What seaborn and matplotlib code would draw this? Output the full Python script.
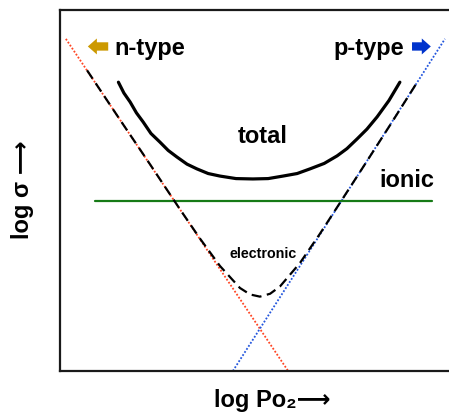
import matplotlib
matplotlib.use("Agg")
import matplotlib.pyplot as plt
import seaborn as sns
from matplotlib.patches import FancyArrowPatch

# ---- data (schematic log units) ----
n_line_x = [0.15, 5.82]
n_line_y = [9.20, 0.00]
p_line_x = [4.41, 9.82]
p_line_y = [0.00, 9.20]
ionic_x = [0.89, 9.49]
ionic_y = [4.71, 4.71]
elec_x = [0.69, 1.53, 2.30, 3.06, 3.57, 4.08, 4.59, 4.85, 5.10, 5.36, 5.61,
          6.12, 6.63, 7.65, 8.42, 9.13]
elec_y = [8.33, 6.96, 5.72, 4.48, 3.67, 2.91, 2.30, 2.12, 2.06, 2.14, 2.34,
          2.99, 3.80, 5.51, 6.81, 8.03]
total_x = [1.49, 1.63, 1.79, 1.95, 2.12, 2.32, 2.55, 2.76, 2.98, 3.24, 3.49,
           3.78, 4.08, 4.49, 4.92, 5.31, 5.69, 6.05, 6.38, 6.74, 7.07, 7.32,
           7.58, 7.83, 8.09, 8.39, 8.67]
total_y = [8.00, 7.70, 7.45, 7.15, 6.90, 6.58, 6.34, 6.11, 5.93, 5.73, 5.60,
           5.47, 5.40, 5.33, 5.32, 5.33, 5.40, 5.47, 5.60, 5.75, 5.96, 6.16,
           6.43, 6.70, 7.04, 7.49, 8.00]
labels = ["n-type", "p-type", "total", "ionic", "electronic"]
xlabel = "log Po₂⟶"
ylabel = "log σ ⟶"

sns.set_theme(style="white")
plt.rcParams["font.family"] = ["Liberation Sans", "DejaVu Sans"]

fig = plt.figure(figsize=(4.49, 4.14), dpi=100)
W, H = 449, 414
ax = fig.add_axes([60 / W, 1 - 372 / H, 392 / W, 361 / H])

sns.lineplot(x=n_line_x, y=n_line_y, ax=ax, color="#ff4422", lw=1.3,
             linestyle=(0, (1.0, 1.0)), estimator=None, sort=False)
sns.lineplot(x=p_line_x, y=p_line_y, ax=ax, color="#2255dd", lw=1.3,
             linestyle=(0, (1.0, 1.0)), estimator=None, sort=False)
sns.lineplot(x=ionic_x, y=ionic_y, ax=ax, color="#167a16", lw=1.6,
             estimator=None, sort=False)
sns.lineplot(x=elec_x, y=elec_y, ax=ax, color="black", lw=1.6,
             linestyle=(0, (4.5, 2.5)), estimator=None, sort=False)
sns.lineplot(x=total_x, y=total_y, ax=ax, color="black", lw=2.3,
             estimator=None, sort=False)

ax.set_xlim(0, 10)
ax.set_ylim(0, 10)
ax.set_xticks([])
ax.set_yticks([])
for side in ["left", "top", "bottom"]:
    ax.spines[side].set_color("#1a1a1a")
    ax.spines[side].set_linewidth(1.6)
ax.spines["right"].set_visible(False)

bold = dict(fontweight="bold", color="black")
ax.text(1.38, 8.78, labels[0], fontsize=17, ha="left", va="baseline", **bold)
ax.text(8.77, 8.78, labels[1], fontsize=17, ha="right", va="baseline", **bold)
ax.text(5.18, 6.34, labels[2], fontsize=17, ha="center", va="baseline", **bold)
ax.text(8.85, 5.12, labels[3], fontsize=17, ha="center", va="baseline", **bold)
ax.text(5.17, 3.16, labels[4], fontsize=10.3, ha="center", va="baseline", **bold)

style = "simple,head_width=1.15,head_length=0.65,tail_width=0.6"
ax.add_patch(FancyArrowPatch((1.23, 8.99), (0.71, 8.99), arrowstyle=style,
                             mutation_scale=10, color="#cc9900", lw=0,
                             shrinkA=0, shrinkB=0))
ax.add_patch(FancyArrowPatch((8.98, 8.99), (9.46, 8.99), arrowstyle=style,
                             mutation_scale=10, color="#0033cc", lw=0,
                             shrinkA=0, shrinkB=0))

ax.set_xlabel(xlabel, fontsize=17, fontweight="bold", color="black")
ax.xaxis.set_label_coords(0.541, -0.078)
ax.xaxis.label.set_va("center")
ax.set_ylabel(ylabel, fontsize=17, fontweight="bold", color="black")
ax.yaxis.set_label_coords(-0.095, 0.504)
ax.yaxis.label.set_va("center")

fig.savefig("out.png", dpi=100)
